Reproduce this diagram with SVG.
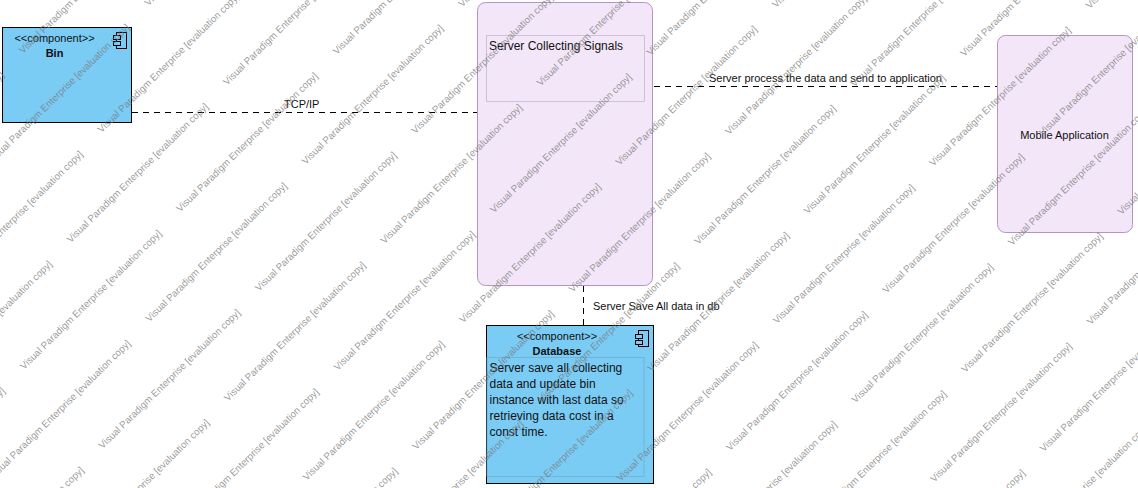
<svg xmlns="http://www.w3.org/2000/svg" width="1138" height="488" viewBox="0 0 1138 488">
<style>
text{font-family:"Liberation Sans",Arial,sans-serif;font-size:11px;fill:#111}
.b{font-weight:bold;text-anchor:middle}.m{text-anchor:middle}.t{font-size:12px}
.comp{fill:#7ACCF5;stroke:#000;stroke-width:1}
.art{fill:#F3E6F8;stroke:#B792C4;stroke-width:1}
.inner{fill:none;stroke:#C8B9D0;stroke-width:.8}
.innerb{fill:none;stroke:#6FAFD0;stroke-width:.8}
.ic{fill:#7ACCF5;stroke:#000;stroke-width:1}
.c{fill:none;stroke:#000;stroke-width:1;stroke-dasharray:6 5}
#watermark text{font-size:9.8px;fill:#777;fill-opacity:.75}
</style>
<g id="connectors">
<path class="c" d="M132 112.5H477"/>
<path class="c" d="M654 86.5H997"/>
<path class="c" d="M583.5 286V325"/>
<text x="284" y="108">TCP/IP</text>
<text x="709" y="82">Server process the data and send to application</text>
<text x="593" y="310">Server Save All data in db</text>
</g>
<g id="bin">
<rect class="comp" x="2.5" y="27.5" width="129" height="95"/>
<rect class="ic" x="116.5" y="32.5" width="10" height="16"/><rect class="ic" x="113.5" y="35.5" width="7" height="4"/><rect class="ic" x="113.5" y="41.5" width="7" height="4"/>
<text class="m" x="54.5" y="42">&lt;&lt;component&gt;&gt;</text><text class="b" x="54.5" y="57">Bin</text>
</g>
<g id="server">
<rect class="art" x="477.5" y="2.5" width="175" height="283" rx="8"/>
<rect class="inner" x="486.5" y="35.5" width="158" height="66"/>
<text class="t" x="489" y="50">Server Collecting Signals</text>
</g>
<g id="mobile">
<rect class="art" x="997.5" y="35.5" width="135" height="197" rx="8"/>
<text class="m" x="1064.5" y="139">Mobile Application</text>
</g>
<g id="database">
<rect class="comp" x="486.5" y="325.5" width="167" height="158"/>
<rect class="ic" x="638.5" y="330.5" width="10" height="16"/><rect class="ic" x="635.5" y="334.5" width="7" height="4"/><rect class="ic" x="635.5" y="340.5" width="7" height="4"/>
<text class="m" x="557" y="340">&lt;&lt;component&gt;&gt;</text><text class="b" x="557" y="355">Database</text>
<rect class="innerb" x="487" y="357.5" width="157" height="119"/>
<text class="t" x="489.5" y="372">Server save all collecting</text>
<text class="t" x="489.5" y="388">data and update bin</text>
<text class="t" x="489.5" y="404">instance with last data so</text>
<text class="t" x="489.5" y="420">retrieving data cost in a</text>
<text class="t" x="489.5" y="436">const time.</text>
</g>
<g id="watermark" transform="matrix(.996 .003 0 1 5 -2)">
<text transform="translate(-139 214) rotate(-44.5)">Visual Paradigm Enterprise [evaluation copy]</text>
<text transform="translate(18 56) rotate(-44.5)">Visual Paradigm Enterprise [evaluation copy]</text>
<text transform="translate(-60 293) rotate(-44.5)">Visual Paradigm Enterprise [evaluation copy]</text>
<text transform="translate(97 135) rotate(-44.5)">Visual Paradigm Enterprise [evaluation copy]</text>
<text transform="translate(-138 530) rotate(-44.5)">Visual Paradigm Enterprise [evaluation copy]</text>
<text transform="translate(19 372) rotate(-44.5)">Visual Paradigm Enterprise [evaluation copy]</text>
<text transform="translate(176 214) rotate(-44.5)">Visual Paradigm Enterprise [evaluation copy]</text>
<text transform="translate(333 56) rotate(-44.5)">Visual Paradigm Enterprise [evaluation copy]</text>
<text transform="translate(-59 609) rotate(-44.5)">Visual Paradigm Enterprise [evaluation copy]</text>
<text transform="translate(98 451) rotate(-44.5)">Visual Paradigm Enterprise [evaluation copy]</text>
<text transform="translate(255 293) rotate(-44.5)">Visual Paradigm Enterprise [evaluation copy]</text>
<text transform="translate(412 135) rotate(-44.5)">Visual Paradigm Enterprise [evaluation copy]</text>
<text transform="translate(177 530) rotate(-44.5)">Visual Paradigm Enterprise [evaluation copy]</text>
<text transform="translate(334 372) rotate(-44.5)">Visual Paradigm Enterprise [evaluation copy]</text>
<text transform="translate(491 214) rotate(-44.5)">Visual Paradigm Enterprise [evaluation copy]</text>
<text transform="translate(648 56) rotate(-44.5)">Visual Paradigm Enterprise [evaluation copy]</text>
<text transform="translate(256 609) rotate(-44.5)">Visual Paradigm Enterprise [evaluation copy]</text>
<text transform="translate(413 451) rotate(-44.5)">Visual Paradigm Enterprise [evaluation copy]</text>
<text transform="translate(570 293) rotate(-44.5)">Visual Paradigm Enterprise [evaluation copy]</text>
<text transform="translate(727 135) rotate(-44.5)">Visual Paradigm Enterprise [evaluation copy]</text>
<text transform="translate(492 530) rotate(-44.5)">Visual Paradigm Enterprise [evaluation copy]</text>
<text transform="translate(649 372) rotate(-44.5)">Visual Paradigm Enterprise [evaluation copy]</text>
<text transform="translate(806 214) rotate(-44.5)">Visual Paradigm Enterprise [evaluation copy]</text>
<text transform="translate(963 56) rotate(-44.5)">Visual Paradigm Enterprise [evaluation copy]</text>
<text transform="translate(571 609) rotate(-44.5)">Visual Paradigm Enterprise [evaluation copy]</text>
<text transform="translate(728 451) rotate(-44.5)">Visual Paradigm Enterprise [evaluation copy]</text>
<text transform="translate(885 293) rotate(-44.5)">Visual Paradigm Enterprise [evaluation copy]</text>
<text transform="translate(1042 135) rotate(-44.5)">Visual Paradigm Enterprise [evaluation copy]</text>
<text transform="translate(807 530) rotate(-44.5)">Visual Paradigm Enterprise [evaluation copy]</text>
<text transform="translate(964 372) rotate(-44.5)">Visual Paradigm Enterprise [evaluation copy]</text>
<text transform="translate(1121 214) rotate(-44.5)">Visual Paradigm Enterprise [evaluation copy]</text>
<text transform="translate(886 609) rotate(-44.5)">Visual Paradigm Enterprise [evaluation copy]</text>
<text transform="translate(1043 451) rotate(-44.5)">Visual Paradigm Enterprise [evaluation copy]</text>
<text transform="translate(1122 530) rotate(-44.5)">Visual Paradigm Enterprise [evaluation copy]</text>
<text transform="translate(-13 166) rotate(-44.5)">Visual Paradigm Enterprise [evaluation copy]</text>
<text transform="translate(144 8) rotate(-44.5)">Visual Paradigm Enterprise [evaluation copy]</text>
<text transform="translate(-91 403) rotate(-44.5)">Visual Paradigm Enterprise [evaluation copy]</text>
<text transform="translate(66 245) rotate(-44.5)">Visual Paradigm Enterprise [evaluation copy]</text>
<text transform="translate(223 87) rotate(-44.5)">Visual Paradigm Enterprise [evaluation copy]</text>
<text transform="translate(-12 482) rotate(-44.5)">Visual Paradigm Enterprise [evaluation copy]</text>
<text transform="translate(145 324) rotate(-44.5)">Visual Paradigm Enterprise [evaluation copy]</text>
<text transform="translate(302 166) rotate(-44.5)">Visual Paradigm Enterprise [evaluation copy]</text>
<text transform="translate(459 8) rotate(-44.5)">Visual Paradigm Enterprise [evaluation copy]</text>
<text transform="translate(67 561) rotate(-44.5)">Visual Paradigm Enterprise [evaluation copy]</text>
<text transform="translate(224 403) rotate(-44.5)">Visual Paradigm Enterprise [evaluation copy]</text>
<text transform="translate(381 245) rotate(-44.5)">Visual Paradigm Enterprise [evaluation copy]</text>
<text transform="translate(538 87) rotate(-44.5)">Visual Paradigm Enterprise [evaluation copy]</text>
<text transform="translate(303 482) rotate(-44.5)">Visual Paradigm Enterprise [evaluation copy]</text>
<text transform="translate(460 324) rotate(-44.5)">Visual Paradigm Enterprise [evaluation copy]</text>
<text transform="translate(617 166) rotate(-44.5)">Visual Paradigm Enterprise [evaluation copy]</text>
<text transform="translate(774 8) rotate(-44.5)">Visual Paradigm Enterprise [evaluation copy]</text>
<text transform="translate(382 561) rotate(-44.5)">Visual Paradigm Enterprise [evaluation copy]</text>
<text transform="translate(539 403) rotate(-44.5)">Visual Paradigm Enterprise [evaluation copy]</text>
<text transform="translate(696 245) rotate(-44.5)">Visual Paradigm Enterprise [evaluation copy]</text>
<text transform="translate(853 87) rotate(-44.5)">Visual Paradigm Enterprise [evaluation copy]</text>
<text transform="translate(618 482) rotate(-44.5)">Visual Paradigm Enterprise [evaluation copy]</text>
<text transform="translate(775 324) rotate(-44.5)">Visual Paradigm Enterprise [evaluation copy]</text>
<text transform="translate(932 166) rotate(-44.5)">Visual Paradigm Enterprise [evaluation copy]</text>
<text transform="translate(1089 8) rotate(-44.5)">Visual Paradigm Enterprise [evaluation copy]</text>
<text transform="translate(697 561) rotate(-44.5)">Visual Paradigm Enterprise [evaluation copy]</text>
<text transform="translate(854 403) rotate(-44.5)">Visual Paradigm Enterprise [evaluation copy]</text>
<text transform="translate(1011 245) rotate(-44.5)">Visual Paradigm Enterprise [evaluation copy]</text>
<text transform="translate(933 482) rotate(-44.5)">Visual Paradigm Enterprise [evaluation copy]</text>
<text transform="translate(1090 324) rotate(-44.5)">Visual Paradigm Enterprise [evaluation copy]</text>
<text transform="translate(1012 561) rotate(-44.5)">Visual Paradigm Enterprise [evaluation copy]</text>
</g>
</svg>
